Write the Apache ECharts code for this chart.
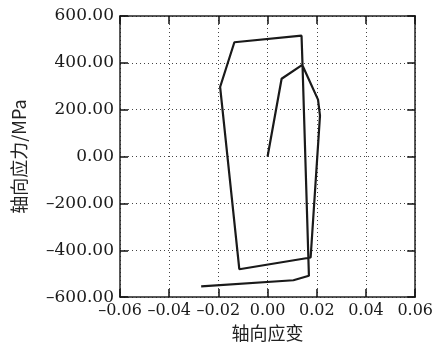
<!DOCTYPE html>
<html>
<head>
<meta charset="utf-8">
<script src="https://cdn.jsdelivr.net/npm/echarts@6/dist/echarts.min.js"></script>
<style>
  html, body { margin: 0; padding: 0; background: #fff; }
  #chart { width: 436px; height: 347px; }
</style>
</head>
<body>
<div id="chart"></div>
<script>
// axial strain / axial stress (MPa)
const strain = [0, 0.0057, 0.0141, 0.0205, 0.0213, 0.0175, -0.0115, -0.0193, -0.0135, 0.0138, 0.0142, 0.0168, 0.0105, -0.027];
const stress = [0, 332, 391, 243, 175, -431, -481, 297, 488, 516, 391, -509, -528, -554];

const xTicks = [-0.06, -0.04, -0.02, 0, 0.02, 0.04, 0.06];
const yTicks = [-600, -400, -200, 0, 200, 400, 600];

const serif = 'DejaVu Serif';
const fmt = (v, d) => v.toFixed(d).replace('-', '\u2013');

let myChart = echarts.init(document.getElementById('chart'));

const gridLine = { show: true, lineStyle: { color: '#444', type: [1, 3], width: 1 } };
const tick = { show: true, inside: true, length: 8, lineStyle: { color: '#111', width: 1.5 } };
const frame = { show: true, onZero: false, lineStyle: { color: '#222', width: 1.5 } };

let option = {
  backgroundColor: '#fff',
  animation: false,
  grid: { left: 120, right: 19, top: 16, bottom: 49 },
  xAxis: [
    {
      type: 'value',
      min: xTicks[0], max: xTicks[xTicks.length - 1], interval: 0.02,
      name: '轴向应变', nameLocation: 'middle', nameGap: 26,
      nameTextStyle: { fontFamily: 'Noto Sans CJK SC', fontSize: 18, color: '#222' },
      axisLine: frame,
      axisTick: tick,
      splitLine: gridLine,
      axisLabel: {
        fontFamily: serif, fontSize: 16, color: '#1a1a1a', margin: 6,
        formatter: (v) => fmt(v, 2),
      },
    },
    {
      type: 'value', position: 'top',
      min: xTicks[0], max: xTicks[xTicks.length - 1], interval: 0.02,
      axisLine: frame, axisTick: tick, axisLabel: { show: false }, splitLine: { show: false },
    },
  ],
  yAxis: [
    {
      type: 'value',
      min: yTicks[0], max: yTicks[yTicks.length - 1], interval: 200,
      name: '轴向应力/MPa', nameLocation: 'middle', nameGap: 92,
      nameTextStyle: { fontFamily: 'Noto Sans CJK SC', fontSize: 18, color: '#222' },
      axisLine: frame,
      axisTick: tick,
      splitLine: gridLine,
      axisLabel: {
        fontFamily: serif, fontSize: 17, color: '#1a1a1a', margin: 6,
        formatter: (v) => fmt(v, 2),
      },
    },
    {
      type: 'value', position: 'right',
      min: yTicks[0], max: yTicks[yTicks.length - 1], interval: 200,
      axisLine: frame, axisTick: tick, axisLabel: { show: false }, splitLine: { show: false },
    },
  ],
  series: [
    {
      type: 'line',
      data: strain.map((s, i) => [s, stress[i]]),
      showSymbol: false,
      lineStyle: { color: '#1a1a1a', width: 2.2 },
    },
  ],
};

myChart.setOption(option);
</script>
</body>
</html>
